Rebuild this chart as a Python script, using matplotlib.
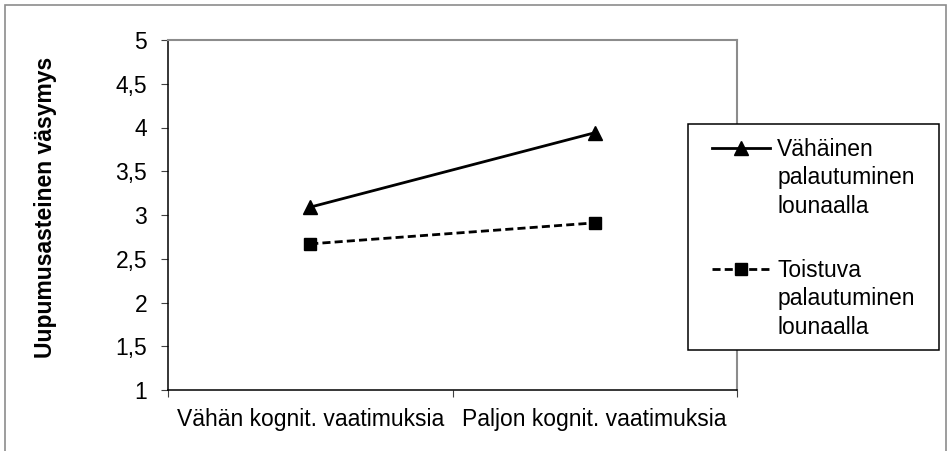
import matplotlib
matplotlib.use('Agg')
import matplotlib.pyplot as plt
from matplotlib.lines import Line2D
from matplotlib.patches import Rectangle

plt.rcParams['font.family'] = ['Liberation Sans', 'DejaVu Sans']

# ---- data ----
categories = ['Vähän kognit. vaatimuksia', 'Paljon kognit. vaatimuksia']
series_names = ['Vähäinen\npalautuminen\nlounaalla', 'Toistuva\npalautuminen\nlounaalla']
low_recovery = [3.09, 3.94]
frequent_recovery = [2.67, 2.91]
y_ticks = [1, 1.5, 2, 2.5, 3, 3.5, 4, 4.5, 5]
y_label = 'Uupumusasteinen väsymys'

# ---- layout ----
W, H = 947, 451
FS = 16.5
LW = 2.0
fig = plt.figure(figsize=(W / 100, H / 100), dpi=100)
ax = fig.add_axes([168 / W, 1 - 390 / H, (737 - 168) / W, 350 / H])

x = list(range(len(categories)))
dash = (0, (2.9, 1.5))
ax.plot(x, low_recovery, color='black', lw=LW, marker='^', ms=9.5, zorder=3)
ax.plot(x, frequent_recovery, color='black', lw=LW, ls=dash, marker='s', ms=8.2, zorder=3)

ax.set_xlim(-0.5, len(categories) - 0.5)
ax.set_ylim(min(y_ticks), max(y_ticks))
ax.set_yticks(y_ticks)
ax.set_yticklabels([f'{v:g}'.replace('.', ',') for v in y_ticks], fontsize=FS)
ax.set_xticks(x)
ax.set_xticklabels(categories, fontsize=FS)
ax.set_xticks([i - 0.5 for i in range(len(categories) + 1)], minor=True)
ax.tick_params(axis='x', which='major', length=0, pad=13)
ax.tick_params(axis='x', which='minor', length=5, width=0.8, color='#404040')
ax.tick_params(axis='y', which='major', length=5, width=0.8, color='#404040', pad=10)

for s in ['left', 'bottom']:
    ax.spines[s].set_color('black')
    ax.spines[s].set_linewidth(1.1)
for s in ['top', 'right']:
    ax.spines[s].set_color('#8c8c8c')
    ax.spines[s].set_linewidth(1.5)

ax.set_ylabel(y_label, fontsize=FS, fontweight='bold')
ax.yaxis.set_label_coords((57 - 168) / 569, (390 - 207) / 350)

# outer figure border
fig.add_artist(Rectangle((5 / W, -0.05), (946 - 5) / W, 1.05 - 5 / H,
                         transform=fig.transFigure, fill=False,
                         edgecolor='#8c8c8c', lw=1.2, zorder=1))

# legend frame
fig.add_artist(Rectangle((688 / W, 1 - 350 / H), (939 - 688) / W, 226 / H,
                         transform=fig.transFigure, facecolor='white',
                         edgecolor='black', lw=1.1, zorder=2))

h_low = Line2D([], [], color='black', lw=LW, marker='^', ms=9.5)
h_freq = Line2D([], [], color='black', lw=LW, ls=dash, marker='s', ms=8.2)
blank = Line2D([], [], linestyle='none')

handles, labels = [], []
spacer_idx = None
for k, (h, name) in enumerate(zip([h_low, h_freq], series_names)):
    if k > 0:
        spacer_idx = len(labels)
        handles.append(blank)
        labels.append(' ')
    parts = name.split('\n')
    handles.append(h)
    labels.append(parts[0])
    for p in parts[1:]:
        handles.append(blank)
        labels.append(p)

leg = fig.legend(handles, labels, loc='upper left',
                 bbox_to_anchor=(712 / W, 1 - 138 / H),
                 bbox_transform=fig.transFigure,
                 frameon=False, fontsize=FS, borderpad=0, borderaxespad=0,
                 handlelength=2.53, handletextpad=0.31, labelspacing=0.24,
                 numpoints=1)
if spacer_idx is not None:
    leg.get_texts()[spacer_idx].set_fontsize(FS * 1.4)

fig.savefig('out.png', dpi=100)
